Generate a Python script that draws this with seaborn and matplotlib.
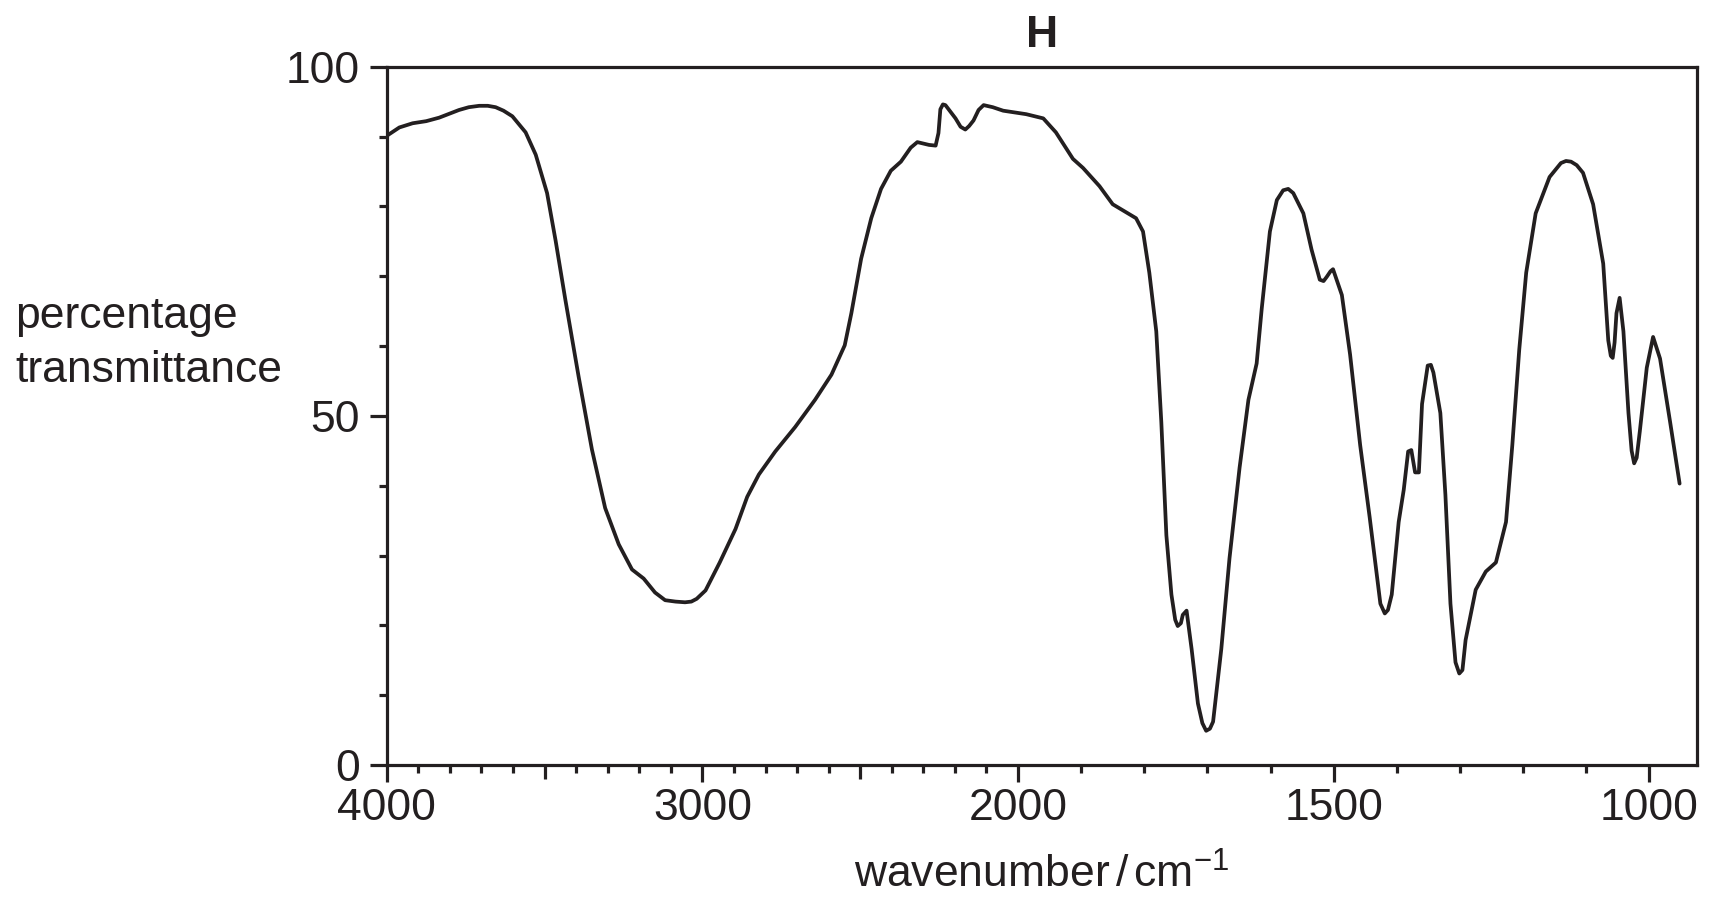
import numpy as np
import pandas as pd
import seaborn as sns
import matplotlib
matplotlib.use("Agg")
import matplotlib.pyplot as plt

# values
wavenumber = [4000, 3960, 3918, 3875, 3834, 3771, 3740, 3707, 3680, 3655,
              3630, 3602, 3560, 3528, 3492, 3465, 3434, 3392, 3350, 3308,
              3265, 3223, 3186, 3150, 3118, 3085, 3055, 3035, 3018, 2990,
              2945, 2895, 2858, 2821, 2769, 2706, 2643, 2591, 2549, 2528,
              2497, 2465, 2434, 2403, 2371, 2340, 2319, 2282, 2261, 2252,
              2246, 2238, 2230, 2215, 2198, 2182, 2167, 2155, 2141, 2125,
              2109, 2080, 2047, 1987, 1960, 1940, 1913, 1897, 1871, 1850,
              1813, 1802, 1792, 1781, 1773, 1765, 1757, 1751, 1747, 1742,
              1739, 1733, 1725, 1715, 1708, 1702, 1696, 1691, 1678, 1665,
              1649, 1635, 1622, 1614, 1601, 1590, 1580, 1572, 1564, 1548,
              1535, 1522, 1516, 1511, 1505, 1501, 1487, 1474, 1458, 1443,
              1435, 1426, 1419, 1414, 1408, 1397, 1389, 1382, 1377, 1371,
              1365, 1360, 1351, 1346, 1342, 1331, 1323, 1315, 1307, 1301,
              1296, 1291, 1275, 1259, 1243, 1227, 1217, 1206, 1195, 1180,
              1158, 1140, 1132, 1124, 1115, 1105, 1089, 1073, 1065, 1061,
              1058, 1055, 1052, 1047, 1041, 1033, 1028, 1024, 1020, 1015,
              1004, 994, 983, 967, 952]
transmittance = [90.1, 91.3, 91.9, 92.2, 92.7, 93.8, 94.2, 94.4, 94.4, 94.2,
                 93.7, 92.9, 90.6, 87.4, 81.9, 75.1, 66.6, 55.6, 45.2, 36.8,
                 31.6, 28.0, 26.7, 24.7, 23.6, 23.4, 23.3, 23.4, 23.8, 25.0,
                 29.0, 33.8, 38.4, 41.6, 44.9, 48.4, 52.3, 55.9, 60.1, 64.7,
                 72.5, 78.3, 82.5, 85.1, 86.4, 88.4, 89.2, 88.8, 88.7, 90.5,
                 93.9, 94.6, 94.5, 93.6, 92.6, 91.4, 91.0, 91.5, 92.3, 93.8,
                 94.5, 94.2, 93.7, 93.2, 92.6, 90.6, 86.8, 85.5, 82.9, 80.3,
                 78.3, 76.4, 70.5, 62.1, 49.1, 32.9, 24.4, 20.8, 19.9, 20.3,
                 21.5, 22.1, 16.6, 8.8, 6.0, 4.9, 5.2, 6.2, 16.6, 29.6,
                 42.6, 52.3, 57.5, 65.3, 76.4, 80.9, 82.3, 82.5, 81.9, 79.0,
                 73.8, 69.5, 69.3, 69.9, 70.7, 71.0, 67.3, 58.8, 45.8, 35.5,
                 29.6, 23.1, 21.7, 22.2, 24.4, 34.8, 39.4, 44.9, 45.1, 41.9,
                 41.9, 51.7, 57.2, 57.3, 56.2, 50.4, 38.7, 23.1, 14.7, 13.1,
                 13.6, 17.9, 25.1, 27.7, 29.0, 34.8, 45.8, 59.5, 70.5, 79.0,
                 84.2, 86.2, 86.5, 86.4, 85.9, 84.8, 80.3, 71.8, 60.8, 58.6,
                 58.3, 60.5, 64.7, 66.9, 62.1, 50.4, 45.0, 43.2, 44.0, 47.8,
                 56.9, 61.3, 58.2, 49.1, 40.3]

x_labelled = [4000, 3000, 2000, 1500, 1000]
x_medium = [3500, 2500]
y_labelled = [0, 50, 100]

ink = "#231f20"

sns.set_style("ticks")
plt.rcParams["font.family"] = ["Liberation Sans", "DejaVu Sans"]
plt.rcParams["mathtext.fontset"] = "custom"
plt.rcParams["mathtext.rm"] = "Liberation Sans"
plt.rcParams["mathtext.it"] = "Liberation Sans"


def fwd(x):
    x = np.asarray(x, dtype=float)
    return np.where(x > 2000, 2000 + (x - 2000) / 2.0, x)


def inv(u):
    u = np.asarray(u, dtype=float)
    return np.where(u > 2000, 2000 + (u - 2000) * 2.0, u)


df = pd.DataFrame({"wavenumber": wavenumber, "T": transmittance})

fig = plt.figure(figsize=(17.15, 9.05), dpi=100)
ax = fig.add_axes([0.2255, 0.1547, 0.7638, 0.7716])

sns.lineplot(data=df, x="wavenumber", y="T", ax=ax, color=ink,
             linewidth=2.7, solid_joinstyle="round", solid_capstyle="round")

ax.set_xscale("function", functions=(fwd, inv))
ax.set_xlim(4000, 925)
ax.set_ylim(0, 100)

major_x = sorted(x_labelled + x_medium, reverse=True)
ax.set_xticks(major_x)
ax.set_xticklabels([str(v) if v in x_labelled else "" for v in major_x])
minor_x = [v for v in range(1100, 4000, 100) if v not in major_x]
ax.set_xticks(minor_x, minor=True)

ax.set_yticks(y_labelled)
ax.set_yticklabels([str(v) for v in y_labelled])
ax.set_yticks([v for v in range(10, 100, 10) if v not in y_labelled], minor=True)

for s in ax.spines.values():
    s.set_linewidth(2.3)
    s.set_color(ink)
    s.set_visible(True)

ax.tick_params(which="major", direction="out", length=12.5, width=2.3,
               color=ink, labelsize=32, labelcolor=ink)
ax.tick_params(which="minor", direction="out", length=6, width=2.3, color=ink)
ax.tick_params(axis="x", which="major", pad=4)
ax.tick_params(axis="y", which="major", pad=7)

for tick, v in zip(ax.xaxis.get_major_ticks(), major_x):
    if v in x_medium:
        tick.tick1line.set_markersize(10)

ax.set_xlabel("wavenumber$\\,/\\,$cm$^{-1}$", fontsize=32, color=ink)
ax.xaxis.label.set_va("baseline")
ax.xaxis.set_label_coords(0.5, -0.1762)
ax.set_ylabel("")

ax.set_title("H", fontsize=32, fontweight="bold", color=ink, pad=14.4)

fig.text(15 / 1715, 1 - 328 / 905, "percentage", fontsize=32, color=ink,
         ha="left", va="baseline")
fig.text(15 / 1715, 1 - 382 / 905, "transmittance", fontsize=32, color=ink,
         ha="left", va="baseline")

fig.savefig("out.png", dpi=100)
